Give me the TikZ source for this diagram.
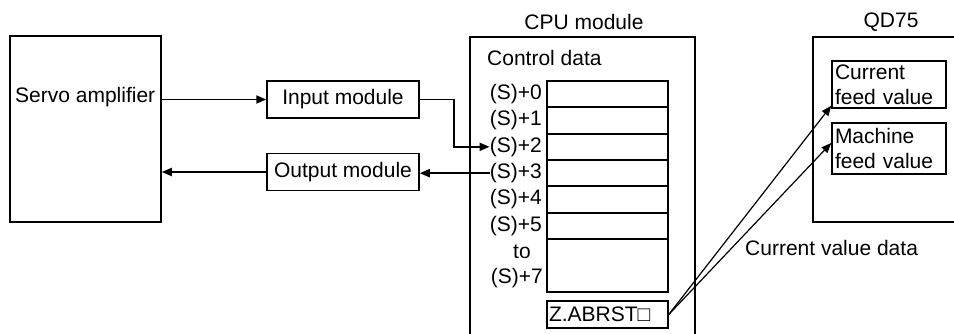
\documentclass[tikz,border=0pt]{standalone}
\usepackage{fontspec}
\setmainfont{Liberation Sans}
\usetikzlibrary{arrows.meta,positioning,calc}

\begin{document}
\begin{tikzpicture}[
  x=1pt,y=-1pt,
  font=\fontsize{21}{25}\selectfont,
  bx/.style={draw,line width=1.5pt,inner sep=0pt},
  cell/.style={draw,line width=2.2pt,minimum width=121pt,minimum height=26.33pt,inner sep=0pt},
  lb/.style={inner sep=0pt},
  ar/.style={-{Triangle[length=10pt,width=8pt]},line width=1.8pt},
  ln/.style={line width=1.5pt}]
  \useasboundingbox (0,0) rectangle (954,334);
  \node[bx,minimum width=151pt,minimum height=186pt] (servo) at (85.5,129) {};
  \node[lb,anchor=west] (servot) at (15,97) {Servo amplifier};
  \node[bx,minimum width=152pt,minimum height=37pt] (inmod) at (343,99.5) {Input module};
  \node[bx,minimum width=152pt,minimum height=37pt] (outmod) at (343,172) {Output module};
  \draw[ln] (470,334) |- (695,37) -- (695,334);
  \node[lb] (cpu) at (584,22) {CPU module};
  \node[lb,anchor=west] (ctl) at (487,58) {Control data};
  \foreach \i in {0,...,5} {
    \node[cell] (r\i) at (607.5,94.17+26.33*\i) {};
    \node[lb,left=4pt of r\i] (s\i) {(S)+\i};
  }
  \node[cell,minimum height=52.7pt] (r7) at (607.5,265.3) {};
  \node[lb] (sto) at (522,252) {to};
  \node[lb,anchor=east] (s7) at (543,278) {(S)+7};
  \node[bx,minimum width=121pt,minimum height=27pt,text width=117pt,inner sep=2pt,align=left] (zab) at (607.5,314.5) {Z.ABRST□};
  \draw[ln] (954,37) -| (813,222) -- (954,222);
  \node[lb] (qd) at (891,22) {QD75};
  \node[bx,text width=108pt,inner sep=3pt,minimum height=47pt,align=left] (cur) at (889,84.5) {Current\\feed value};
  \node[bx,text width=108pt,inner sep=3pt,minimum height=51pt,align=left] (mach) at (889,148.5) {Machine\\feed value};
  \node[lb,anchor=west] (cvd) at (745,248) {Current value data};
  \draw[ar] (servo.east |- inmod.west) -- (inmod.west);
  \draw[ar] (outmod.west) -- (outmod.west -| servo.east);
  \draw[ar] (inmod.east) -- ++(34,0) |- (s2.west);
  \draw[ar] (s3.west) -- (s3.west -| outmod.east);
  \draw[ar,line width=1.2pt] (zab.east) -- ($(cur.south west)+(0,-3)$);
  \draw[ar,line width=1.2pt] (zab.east) -- ($(mach.west)+(0,-5.5)$);
\end{tikzpicture}
\end{document}
